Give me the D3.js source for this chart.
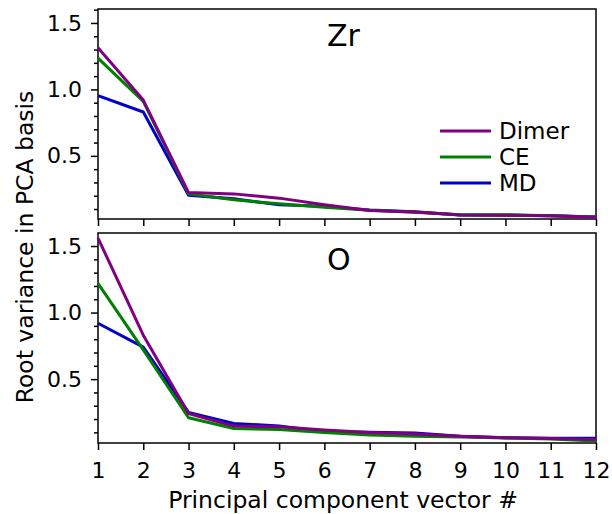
<!DOCTYPE html>
<html>
<head>
<meta charset="utf-8">
<script src="https://cdn.jsdelivr.net/npm/d3@7"></script>
<style>
  body { margin: 0; background: #fff; }
  text { font-family: "DejaVu Sans", sans-serif; fill: #000; }
  .axis path, .axis line { stroke: #000; stroke-width: 1.5; }
  .trend { fill: none; stroke-width: 3; stroke-linejoin: round; }
</style>
</head>
<body>
<div id="d3-container"></div>
<script>
/* CONSTANTS AND GLOBALS */
const width = 612,
  height = 514,
  margin = { left: 98, right: 16 },
  panelTops = [9, 233],
  panelHeight = 210;

// principal component index on x
const components = [1, 2, 3, 4, 5, 6, 7, 8, 9, 10, 11, 12];

// Zr panel
const zrDimer = [1.314, 0.92, 0.224, 0.214, 0.182, 0.132, 0.089, 0.078, 0.056, 0.054, 0.049, 0.039];
const zrCE = [1.235, 0.91, 0.214, 0.169, 0.139, 0.114, 0.09, 0.076, 0.057, 0.057, 0.05, 0.04];
const zrMD = [0.953, 0.83, 0.204, 0.177, 0.132, 0.12, 0.092, 0.08, 0.055, 0.054, 0.049, 0.04];

// O panel
const oDimer = [1.56, 0.83, 0.242, 0.147, 0.142, 0.117, 0.099, 0.087, 0.071, 0.059, 0.054, 0.047];
const oCE = [1.22, 0.72, 0.21, 0.129, 0.122, 0.099, 0.081, 0.071, 0.066, 0.058, 0.05, 0.035];
const oMD = [0.92, 0.74, 0.25, 0.167, 0.147, 0.104, 0.1, 0.096, 0.07, 0.06, 0.055, 0.055];

const seriesNames = ["Dimer", "CE", "MD"];
const seriesColors = { Dimer: "#800080", CE: "#008000", MD: "#0000cd" };

const yMajorTicks = [0.5, 1.0, 1.5];
const yMinorTicks = [0.1, 0.2, 0.3, 0.4, 0.6, 0.7, 0.8, 0.9, 1.1, 1.2, 1.3, 1.4, 1.6];

const panels = [
  { label: "Zr", domain: [0.025, 1.605], series: { Dimer: zrDimer, CE: zrCE, MD: zrMD }, legend: true },
  { label: "O", domain: [0.02, 1.598], series: { Dimer: oDimer, CE: oCE, MD: oMD }, legend: false }
];

const svg = d3
  .select("#d3-container")
  .append("svg")
  .attr("width", width)
  .attr("height", height);

const xScale = d3
  .scaleLinear()
  .domain([1, 12])
  .range([margin.left, width - margin.right]);

panels.forEach((p, i) => {
  const top = panelTops[i];
  const bottom = top + panelHeight;
  const isLast = i === panels.length - 1;

  const yScale = d3.scaleLinear().domain(p.domain).range([bottom, top]);

  const g = svg.append("g").attr("class", "panel");

  // box
  g.append("rect")
    .attr("x", xScale.range()[0])
    .attr("y", top)
    .attr("width", xScale.range()[1] - xScale.range()[0])
    .attr("height", panelHeight)
    .attr("fill", "none")
    .attr("stroke", "#000")
    .attr("stroke-width", 1.5);

  // x axis (labels only on bottom panel)
  const xAxis = d3
    .axisBottom(xScale)
    .tickValues(components)
    .tickSize(7)
    .tickPadding(12)
    .tickFormat(isLast ? d3.format("d") : () => "");
  g.append("g")
    .attr("class", "axis x-axis")
    .attr("transform", `translate(0,${bottom})`)
    .call(xAxis)
    .call(a => a.select(".domain").remove())
    .selectAll("text")
    .attr("font-size", 22);

  // y axis minor ticks
  g.append("g")
    .attr("class", "axis y-minor")
    .attr("transform", `translate(${margin.left},0)`)
    .call(
      d3.axisLeft(yScale)
        .tickValues(yMinorTicks.filter(v => v >= p.domain[0] && v <= p.domain[1]))
        .tickSize(4)
        .tickFormat(() => "")
    )
    .call(a => a.select(".domain").remove());

  // y axis major ticks
  g.append("g")
    .attr("class", "axis y-axis")
    .attr("transform", `translate(${margin.left},0)`)
    .call(
      d3.axisLeft(yScale)
        .tickValues(yMajorTicks)
        .tickSize(7)
        .tickPadding(9)
        .tickFormat(d3.format(".1f"))
    )
    .call(a => a.select(".domain").remove())
    .selectAll("text")
    .attr("font-size", 22);

  const lineFunc = d3
    .line()
    .x((d, j) => xScale(components[j]))
    .y(d => yScale(d));

  // MD first, Dimer on top
  g.selectAll("path.trend")
    .data(seriesNames.slice().reverse())
    .join("path")
    .attr("class", "trend")
    .attr("stroke", d => seriesColors[d])
    .attr("d", d => lineFunc(p.series[d]));

  g.append("text")
    .attr("x", 327)
    .attr("y", top + 37)
    .attr("font-size", 30)
    .text(p.label);

  if (p.legend) {
    const legend = g.append("g").attr("class", "legend");
    const rows = legend
      .selectAll("g")
      .data(seriesNames)
      .join("g")
      .attr("transform", (d, j) => `translate(440,${131 + j * 26})`);
    rows.append("line")
      .attr("x1", 0)
      .attr("x2", 51)
      .attr("stroke", d => seriesColors[d])
      .attr("stroke-width", 3);
    rows.append("text")
      .attr("x", 59)
      .attr("dy", "0.36em")
      .attr("font-size", 23)
      .text(d => d);
  }
});

// axis titles
svg.append("text")
  .attr("x", 343)
  .attr("y", 508)
  .attr("text-anchor", "middle")
  .attr("font-size", 23.5)
  .text("Principal component vector #");

svg.append("text")
  .attr("transform", "translate(33,247) rotate(-90)")
  .attr("text-anchor", "middle")
  .attr("font-size", 23.5)
  .text("Root variance in PCA basis");
</script>
</body>
</html>
